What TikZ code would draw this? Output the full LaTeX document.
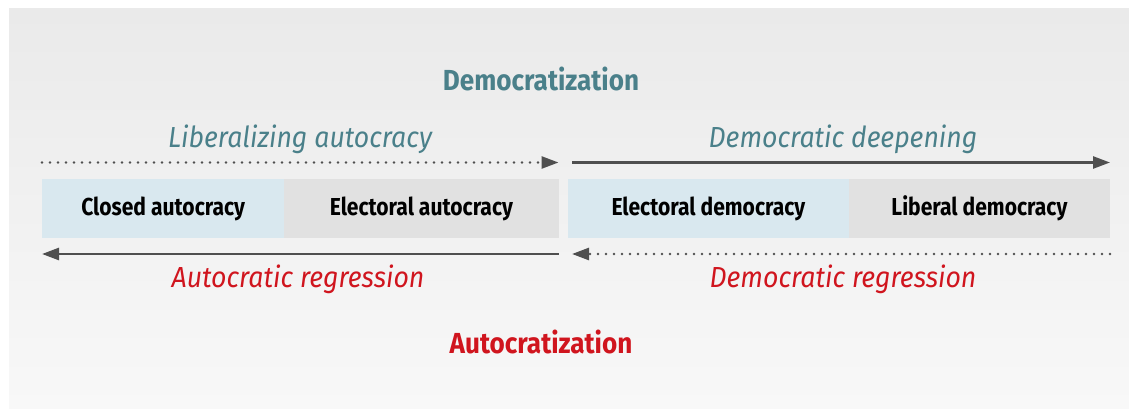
\documentclass[tikz,border=0pt]{standalone}
\usepackage{fontspec}
\setmainfont{Fira Sans}
\newfontfamily\headfont[FakeStretch=0.9]{Fira Sans}
\newfontfamily\italfont[FakeStretch=0.92]{Fira Sans}
\newfontfamily\condfont[FakeStretch=0.86]{Fira Sans}
\usetikzlibrary{arrows.meta}
\definecolor{bgtop}{HTML}{EAEAEA}
\definecolor{bgbot}{HTML}{F8F8F8}
\definecolor{tealtxt}{HTML}{4A808A}
\definecolor{redtxt}{HTML}{D0151E}
\definecolor{arrowgray}{HTML}{4F4F4F}
\definecolor{boxblue}{HTML}{D9E8EF}
\definecolor{boxgray}{HTML}{E1E1E1}
\tikzset{
  regime/.style={minimum height=59pt, inner sep=0pt, anchor=north west,
    font=\condfont\bfseries\fontsize{24.5}{24.5}\selectfont, text=black},
  bluebox/.style={regime, fill=boxblue},
  graybox/.style={regime, fill=boxgray},
  heading/.style={anchor=base, font=\headfont\bfseries\fontsize{29}{29}\selectfont},
  pathlabel/.style={anchor=base, font=\italfont\itshape\fontsize{29}{29}\selectfont},
  solidarrow/.style={draw=arrowgray, line width=2.6pt,
    -{Triangle[length=17pt,width=12pt]}},
  dottedarrow/.style={draw=arrowgray, line width=2.6pt, line cap=round,
    dash pattern=on 0pt off 8pt, -{Triangle[length=17pt,width=12pt,line cap=butt]}}
}
\begin{document}
\begin{tikzpicture}[x=1pt,y=-1pt]
  \useasboundingbox (0,0) rectangle (1129,409);
  % panel with soft vertical shading
  \shade[top color=bgtop, bottom color=bgbot] (9,9) rectangle (1129,409);

  % headings
  \node[heading, text=tealtxt] (demz) at (541,91) {Democratization};
  \node[heading, text=redtxt] (autz) at (541,353) {Autocratization};

  % regime bands
  \node[bluebox, minimum width=242pt] (closed) at (42,179) {Closed autocracy};
  \node[graybox, minimum width=274.5pt] (elaut) at (284,179) {Electoral autocracy};
  \node[bluebox, minimum width=280.5pt] (eldem) at (568,179) {Electoral democracy};
  \node[graybox, minimum width=261.5pt] (libdem) at (848.5,179) {Liberal democracy};

  % arrow end points
  \coordinate (la) at (42,162.5);
  \coordinate (lb) at (558.5,162.5);
  \coordinate (ra) at (572,162.5);
  \coordinate (rb) at (1110,162.5);
  \coordinate (lc) at (558.5,254);
  \coordinate (ld) at (42,254);
  \coordinate (rc) at (1110,254);
  \coordinate (rd) at (572,254);

  \draw[dottedarrow] (la) -- (lb);
  \draw[solidarrow] (ra) -- (rb);
  \draw[solidarrow] (lc) -- (ld);
  \draw[dottedarrow] (rc) -- (rd);

  % path labels
  \node[pathlabel, text=tealtxt] (libaut) at (300,147) {Liberalizing autocracy};
  \node[pathlabel, text=tealtxt] (deep) at (843,147) {Democratic deepening};
  \node[pathlabel, text=redtxt] (autreg) at (298,287) {Autocratic regression};
  \node[pathlabel, text=redtxt] (demreg) at (843,287) {Democratic regression};
\end{tikzpicture}
\end{document}
